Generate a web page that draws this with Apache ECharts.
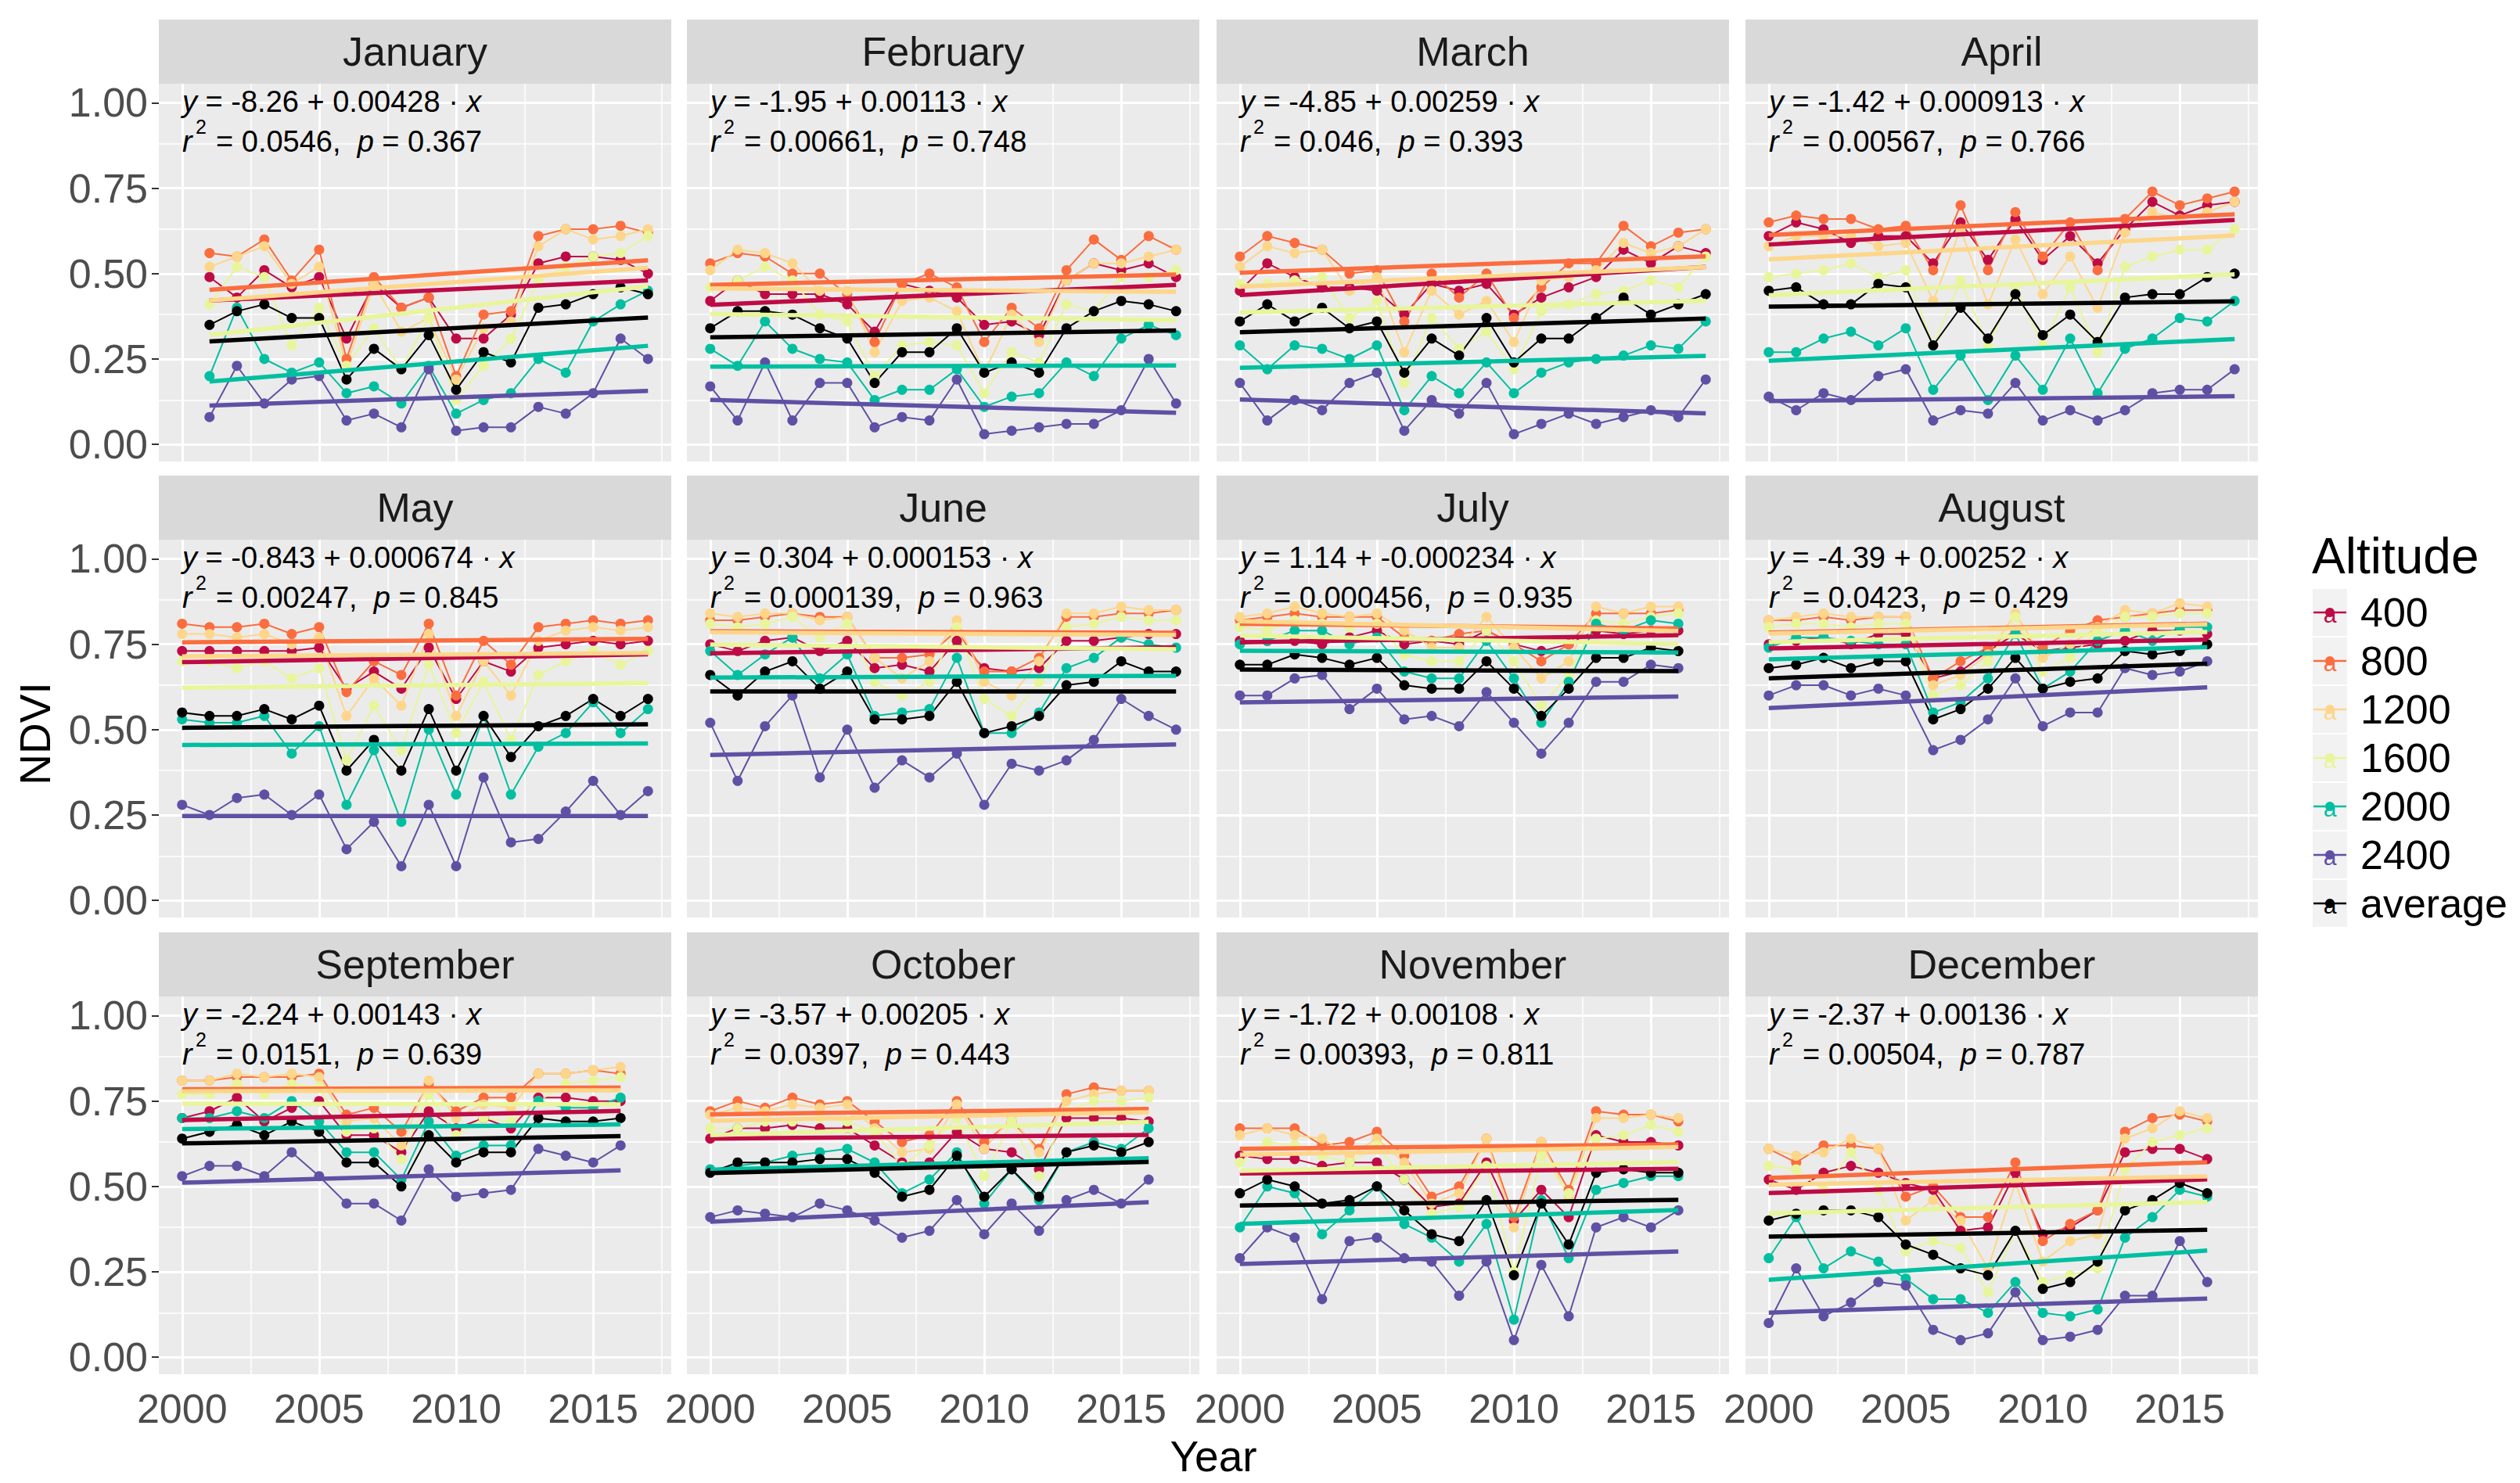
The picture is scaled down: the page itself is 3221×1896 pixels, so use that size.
<!DOCTYPE html>
<html><head><meta charset="utf-8">
<script src="https://cdn.jsdelivr.net/npm/echarts@6/dist/echarts.min.js"></script>
<style>html,body{margin:0;padding:0;background:#fff}#c{width:3221px;height:1896px}</style>
</head><body><div id="c"></div>
<script>
// ---------------- DATA ----------------
const months = ['January','February','March','April','May','June','July','August','September','October','November','December'];
const firstYear = [2001,2000,2000,2000,2000,2000,2000,2000,2000,2000,2000,2000];
const altitudes = ['400','800','1200','1600','2000','2400','average'];

const alt400 = [
 [0.49,0.43,0.51,0.46,0.49,0.31,0.47,0.40,0.43,0.31,0.31,0.38,0.53,0.55,0.55,0.54,0.50],
 [0.42,0.48,0.44,0.44,0.44,0.41,0.33,0.47,0.45,0.43,0.35,0.36,0.32,0.48,0.53,0.51,0.53,0.49],
 [0.45,0.53,0.49,0.46,0.46,0.45,0.38,0.47,0.45,0.47,0.38,0.43,0.46,0.49,0.57,0.53,0.58,0.56],
 [0.61,0.65,0.63,0.59,0.61,0.61,0.53,0.65,0.54,0.66,0.54,0.61,0.53,0.63,0.71,0.67,0.70,0.71],
 [0.73,0.73,0.73,0.73,0.73,0.74,0.62,0.67,0.62,0.74,0.59,0.70,0.67,0.74,0.75,0.76,0.75,0.76],
 [0.75,0.73,0.76,0.77,0.73,0.76,0.68,0.69,0.67,0.76,0.68,0.67,0.68,0.76,0.76,0.77,0.78,0.78],
 [0.76,0.76,0.76,0.75,0.77,0.79,0.75,0.76,0.75,0.79,0.75,0.73,0.75,0.79,0.78,0.79,0.79],
 [0.75,0.76,0.77,0.75,0.78,0.78,0.65,0.67,0.73,0.78,0.73,0.74,0.75,0.76,0.79,0.79,0.78],
 [0.70,0.72,0.76,0.69,0.73,0.75,0.65,0.65,0.60,0.72,0.67,0.70,0.67,0.76,0.76,0.75,0.75],
 [0.64,0.67,0.67,0.68,0.67,0.67,0.62,0.57,0.57,0.66,0.61,0.60,0.55,0.70,0.70,0.70,0.69],
 [0.59,0.58,0.58,0.56,0.57,0.57,0.52,0.44,0.45,0.57,0.40,0.49,0.41,0.65,0.63,0.63,0.62],
 [0.52,0.49,0.54,0.56,0.54,0.51,0.49,0.37,0.38,0.54,0.36,0.38,0.43,0.60,0.61,0.61,0.58]
];
const alt800 = [
 [0.56,0.55,0.60,0.48,0.57,0.25,0.49,0.40,0.43,0.20,0.38,0.39,0.61,0.63,0.63,0.64,0.62],
 [0.53,0.56,0.55,0.50,0.50,0.44,0.30,0.47,0.50,0.46,0.30,0.40,0.34,0.51,0.60,0.54,0.61,0.57],
 [0.55,0.61,0.59,0.57,0.50,0.51,0.36,0.50,0.43,0.50,0.37,0.46,0.53,0.53,0.64,0.58,0.62,0.63],
 [0.65,0.67,0.66,0.66,0.63,0.64,0.51,0.70,0.51,0.68,0.55,0.65,0.51,0.66,0.74,0.70,0.72,0.74],
 [0.81,0.80,0.80,0.81,0.78,0.80,0.61,0.70,0.66,0.81,0.60,0.76,0.69,0.80,0.81,0.82,0.81,0.82],
 [0.82,0.82,0.83,0.84,0.83,0.83,0.71,0.71,0.72,0.79,0.67,0.67,0.71,0.83,0.83,0.84,0.84,0.85],
 [0.82,0.83,0.84,0.83,0.83,0.83,0.77,0.76,0.78,0.79,0.75,0.70,0.75,0.84,0.84,0.84,0.85],
 [0.82,0.82,0.83,0.82,0.83,0.83,0.65,0.70,0.74,0.79,0.74,0.79,0.82,0.83,0.84,0.85,0.85],
 [0.81,0.81,0.82,0.82,0.82,0.83,0.71,0.73,0.66,0.80,0.72,0.76,0.76,0.83,0.83,0.84,0.83],
 [0.72,0.75,0.73,0.76,0.74,0.75,0.69,0.63,0.65,0.75,0.63,0.69,0.61,0.77,0.79,0.78,0.78],
 [0.67,0.67,0.67,0.62,0.63,0.66,0.59,0.47,0.50,0.64,0.41,0.63,0.49,0.72,0.71,0.71,0.69],
 [0.61,0.57,0.62,0.62,0.61,0.47,0.50,0.41,0.41,0.57,0.34,0.39,0.43,0.66,0.70,0.71,0.69]
];
const alt1200 = [
 [0.52,0.55,0.58,0.47,0.52,0.23,0.47,0.33,0.37,0.19,0.34,0.36,0.58,0.63,0.60,0.61,0.63],
 [0.51,0.57,0.56,0.53,0.45,0.45,0.27,0.42,0.43,0.39,0.21,0.38,0.30,0.48,0.53,0.53,0.55,0.57],
 [0.52,0.58,0.56,0.57,0.45,0.49,0.27,0.45,0.38,0.42,0.30,0.48,0.49,0.51,0.59,0.56,0.58,0.63],
 [0.58,0.61,0.61,0.61,0.58,0.59,0.42,0.63,0.41,0.60,0.44,0.55,0.40,0.62,0.68,0.66,0.68,0.71],
 [0.78,0.78,0.77,0.78,0.75,0.77,0.54,0.65,0.57,0.78,0.54,0.70,0.60,0.76,0.79,0.80,0.79,0.80],
 [0.84,0.83,0.84,0.84,0.82,0.83,0.71,0.65,0.70,0.82,0.64,0.60,0.70,0.84,0.84,0.86,0.85,0.85],
 [0.83,0.84,0.86,0.84,0.83,0.84,0.79,0.74,0.74,0.83,0.74,0.65,0.70,0.86,0.84,0.86,0.86],
 [0.82,0.83,0.84,0.83,0.83,0.83,0.63,0.66,0.72,0.84,0.71,0.75,0.80,0.85,0.84,0.87,0.86],
 [0.81,0.81,0.83,0.82,0.83,0.82,0.69,0.70,0.62,0.81,0.70,0.74,0.73,0.83,0.83,0.84,0.85],
 [0.71,0.73,0.72,0.74,0.73,0.74,0.67,0.60,0.61,0.74,0.61,0.70,0.60,0.75,0.77,0.78,0.78],
 [0.65,0.67,0.65,0.64,0.59,0.64,0.57,0.45,0.48,0.64,0.38,0.63,0.47,0.70,0.70,0.71,0.70],
 [0.61,0.59,0.60,0.64,0.61,0.40,0.46,0.40,0.26,0.51,0.28,0.34,0.36,0.64,0.67,0.72,0.70]
];
const alt1600 = [
 [0.41,0.52,0.49,0.29,0.40,0.23,0.34,0.22,0.37,0.13,0.23,0.31,0.48,0.52,0.55,0.56,0.61],
 [0.46,0.48,0.52,0.48,0.38,0.36,0.20,0.29,0.30,0.29,0.15,0.27,0.24,0.41,0.39,0.49,0.49,0.51],
 [0.47,0.47,0.48,0.49,0.37,0.42,0.18,0.37,0.28,0.33,0.22,0.39,0.41,0.44,0.45,0.48,0.46,0.55],
 [0.49,0.50,0.51,0.53,0.49,0.51,0.29,0.48,0.29,0.46,0.29,0.46,0.27,0.52,0.55,0.57,0.57,0.63],
 [0.70,0.70,0.68,0.70,0.65,0.68,0.41,0.57,0.44,0.69,0.49,0.64,0.47,0.66,0.70,0.73,0.69,0.73],
 [0.81,0.80,0.81,0.83,0.77,0.81,0.64,0.60,0.64,0.80,0.59,0.54,0.64,0.80,0.81,0.83,0.82,0.82],
 [0.80,0.79,0.82,0.81,0.80,0.81,0.72,0.70,0.70,0.79,0.70,0.57,0.66,0.82,0.81,0.83,0.84],
 [0.80,0.81,0.81,0.80,0.81,0.81,0.60,0.63,0.70,0.83,0.67,0.71,0.79,0.83,0.83,0.84,0.84],
 [0.77,0.77,0.80,0.77,0.80,0.79,0.66,0.67,0.58,0.77,0.65,0.70,0.69,0.75,0.80,0.81,0.82],
 [0.67,0.67,0.69,0.69,0.70,0.69,0.66,0.56,0.62,0.70,0.53,0.69,0.53,0.72,0.75,0.75,0.76],
 [0.57,0.63,0.62,0.59,0.57,0.62,0.52,0.42,0.44,0.56,0.25,0.59,0.48,0.64,0.65,0.68,0.66],
 [0.56,0.55,0.49,0.60,0.49,0.31,0.34,0.32,0.19,0.37,0.22,0.24,0.26,0.55,0.63,0.65,0.67]
];
const alt2000 = [
 [0.20,0.40,0.25,0.21,0.24,0.15,0.17,0.12,0.23,0.09,0.13,0.15,0.25,0.21,0.36,0.41,0.45],
 [0.28,0.23,0.36,0.28,0.25,0.24,0.13,0.16,0.16,0.22,0.11,0.14,0.15,0.24,0.20,0.31,0.35,0.32],
 [0.29,0.22,0.29,0.28,0.25,0.29,0.10,0.20,0.15,0.24,0.15,0.21,0.24,0.25,0.26,0.29,0.28,0.36],
 [0.27,0.27,0.31,0.33,0.29,0.34,0.16,0.26,0.13,0.26,0.16,0.31,0.15,0.28,0.31,0.37,0.36,0.42],
 [0.53,0.52,0.52,0.54,0.43,0.51,0.28,0.44,0.23,0.50,0.31,0.54,0.31,0.45,0.49,0.58,0.49,0.56],
 [0.73,0.66,0.72,0.77,0.65,0.72,0.54,0.55,0.56,0.71,0.49,0.49,0.55,0.68,0.71,0.77,0.75,0.74],
 [0.75,0.76,0.79,0.79,0.75,0.77,0.67,0.65,0.65,0.76,0.65,0.52,0.64,0.81,0.79,0.82,0.81],
 [0.74,0.77,0.77,0.76,0.75,0.75,0.55,0.58,0.65,0.78,0.62,0.67,0.76,0.79,0.76,0.80,0.80],
 [0.70,0.70,0.72,0.70,0.75,0.69,0.60,0.60,0.52,0.69,0.59,0.62,0.62,0.75,0.73,0.73,0.76],
 [0.55,0.56,0.57,0.59,0.60,0.61,0.57,0.48,0.52,0.60,0.45,0.55,0.46,0.60,0.63,0.61,0.67],
 [0.38,0.50,0.48,0.36,0.43,0.50,0.39,0.35,0.28,0.39,0.11,0.46,0.29,0.49,0.51,0.53,0.53],
 [0.29,0.41,0.26,0.31,0.28,0.23,0.17,0.17,0.13,0.22,0.13,0.12,0.14,0.35,0.41,0.49,0.47]
];
const alt2400 = [
 [0.08,0.23,0.12,0.19,0.20,0.07,0.09,0.05,0.22,0.04,0.05,0.05,0.11,0.09,0.15,0.31,0.25],
 [0.17,0.07,0.24,0.07,0.18,0.18,0.05,0.08,0.07,0.19,0.03,0.04,0.05,0.06,0.06,0.10,0.25,0.12],
 [0.18,0.07,0.13,0.10,0.18,0.21,0.04,0.13,0.09,0.18,0.03,0.06,0.09,0.06,0.08,0.10,0.08,0.19],
 [0.14,0.10,0.15,0.13,0.20,0.22,0.07,0.10,0.09,0.18,0.07,0.10,0.07,0.10,0.15,0.16,0.16,0.22],
 [0.28,0.25,0.30,0.31,0.25,0.31,0.15,0.23,0.10,0.28,0.10,0.36,0.17,0.18,0.26,0.35,0.25,0.32],
 [0.52,0.35,0.51,0.60,0.36,0.50,0.33,0.41,0.36,0.43,0.28,0.40,0.38,0.41,0.47,0.59,0.54,0.50],
 [0.60,0.60,0.65,0.66,0.56,0.62,0.53,0.54,0.51,0.61,0.52,0.43,0.52,0.64,0.64,0.69,0.68],
 [0.60,0.63,0.63,0.60,0.62,0.60,0.44,0.47,0.53,0.65,0.51,0.55,0.55,0.68,0.66,0.67,0.70],
 [0.53,0.56,0.56,0.53,0.60,0.53,0.45,0.45,0.40,0.55,0.47,0.48,0.49,0.61,0.59,0.57,0.62],
 [0.41,0.43,0.42,0.41,0.45,0.43,0.40,0.35,0.37,0.46,0.36,0.45,0.37,0.46,0.49,0.45,0.52],
 [0.29,0.38,0.35,0.17,0.34,0.35,0.29,0.28,0.18,0.28,0.05,0.27,0.12,0.38,0.41,0.38,0.43],
 [0.10,0.26,0.12,0.16,0.22,0.21,0.08,0.05,0.07,0.19,0.05,0.06,0.08,0.18,0.18,0.34,0.22]
];
const altAverage = [
 [0.35,0.39,0.41,0.37,0.37,0.19,0.28,0.22,0.32,0.16,0.27,0.24,0.40,0.41,0.44,0.46,0.44],
 [0.34,0.39,0.39,0.38,0.34,0.31,0.18,0.27,0.27,0.34,0.21,0.24,0.21,0.34,0.39,0.42,0.41,0.39],
 [0.36,0.41,0.36,0.40,0.34,0.36,0.21,0.31,0.26,0.37,0.24,0.31,0.31,0.37,0.43,0.38,0.41,0.44],
 [0.45,0.46,0.41,0.41,0.47,0.46,0.29,0.40,0.31,0.44,0.32,0.38,0.30,0.43,0.44,0.44,0.49,0.50],
 [0.55,0.54,0.54,0.56,0.53,0.57,0.38,0.47,0.38,0.56,0.38,0.54,0.42,0.51,0.54,0.59,0.54,0.59],
 [0.66,0.60,0.67,0.70,0.62,0.67,0.53,0.53,0.54,0.64,0.49,0.51,0.54,0.63,0.64,0.70,0.67,0.67],
 [0.69,0.69,0.72,0.71,0.69,0.71,0.63,0.62,0.62,0.70,0.62,0.54,0.62,0.71,0.71,0.74,0.73],
 [0.68,0.69,0.71,0.68,0.70,0.70,0.53,0.56,0.62,0.71,0.62,0.64,0.65,0.73,0.72,0.73,0.75],
 [0.64,0.66,0.68,0.65,0.69,0.66,0.57,0.57,0.50,0.65,0.57,0.60,0.60,0.70,0.69,0.69,0.70],
 [0.54,0.57,0.57,0.57,0.58,0.58,0.54,0.47,0.49,0.59,0.47,0.55,0.47,0.60,0.62,0.60,0.63],
 [0.48,0.52,0.50,0.45,0.46,0.50,0.43,0.36,0.34,0.46,0.24,0.45,0.33,0.54,0.55,0.54,0.54],
 [0.40,0.42,0.43,0.43,0.41,0.33,0.30,0.26,0.24,0.37,0.20,0.22,0.28,0.43,0.46,0.51,0.48]
];
const eqIntercept = ['-8.26','-1.95','-4.85','-1.42','-0.843','0.304','1.14','-4.39','-2.24','-3.57','-1.72','-2.37'];
const eqSlope = ['0.00428','0.00113','0.00259','0.000913','0.000674','0.000153','-0.000234','0.00252','0.00143','0.00205','0.00108','0.00136'];
const eqR2 = ['0.0546','0.00661','0.046','0.00567','0.00247','0.000139','0.000456','0.0423','0.0151','0.0397','0.00393','0.00504'];
const eqP = ['0.367','0.748','0.393','0.766','0.845','0.963','0.935','0.429','0.639','0.443','0.811','0.787'];
const xTicks = [2000, 2005, 2010, 2015];
const yTicks = [0, 0.25, 0.5, 0.75, 1];

// ---------------- STYLE / LAYOUT ----------------
const colors = ['#BE0B45','#FB6D3E','#FDD68A','#E8F59A','#00BFA0','#6050A4','#000000'];
const FONT = '"Liberation Sans", Arial, sans-serif';
const colLeft = [203, 878, 1555, 2231];
const rowTop = [107, 690, 1274];
const PW = 655, PH = 483, STRIP = 82;
const XMIN = 1999.15, XMAX = 2017.85, YMIN = -0.05, YMAX = 1.056;
const EQ = 38;

const allData = [alt400, alt800, alt1200, alt1600, alt2000, alt2400, altAverage];

function fit(pts) {
  const n = pts.length;
  let mx = 0, my = 0;
  pts.forEach(p => { mx += p[0]; my += p[1]; });
  mx /= n; my /= n;
  let sxy = 0, sxx = 0;
  pts.forEach(p => { sxy += (p[0]-mx)*(p[1]-my); sxx += (p[0]-mx)*(p[0]-mx); });
  const b = sxy / sxx, a = my - b*mx;
  const x0 = pts[0][0], x1 = pts[n-1][0];
  return [[x0, a + b*x0], [x1, a + b*x1]];
}

const grids = [], xAxes = [], yAxes = [], series = [], graphics = [];
const lines = [], regs = [];

for (let m = 0; m < 12; m++) {
  const r = Math.floor(m / 4), c = m % 4;
  const left = colLeft[c], top = rowTop[r];
  const isBottom = r === 2, isLeft = c === 0;
  grids.push({left: left, top: top, width: PW, height: PH, show: true,
    backgroundColor: '#EBEBEB', borderWidth: 0, containLabel: false});
  xAxes.push({gridIndex: m, type: 'value', min: XMIN, max: XMAX,
    axisLine: {show: false}, splitLine: {show: false},
    axisTick: {show: isBottom, length: 9, customValues: xTicks, lineStyle: {color: '#333333', width: 2}},
    axisLabel: {show: isBottom, customValues: xTicks, formatter: v => String(Math.round(v)),
      fontSize: 52, fontFamily: FONT, color: '#4D4D4D', margin: 18}});
  yAxes.push({gridIndex: m, type: 'value', min: YMIN, max: YMAX,
    axisLine: {show: false}, splitLine: {show: false},
    axisTick: {show: isLeft, length: 9, customValues: yTicks, lineStyle: {color: '#333333', width: 2}},
    axisLabel: {show: isLeft, customValues: yTicks, formatter: v => v.toFixed(2),
      fontSize: 52, fontFamily: FONT, color: '#4D4D4D', margin: 14}});

  // panel gridlines
  const gl = [];
  [2000,2005,2010,2015].forEach(v => gl.push({xAxis: v, lineStyle: {color: '#FFFFFF', width: 3, type: 'solid'}}));
  [2002.5,2007.5,2012.5,2017.5].forEach(v => gl.push({xAxis: v, lineStyle: {color: '#FFFFFF', width: 1.5, type: 'solid'}}));
  [0,0.25,0.5,0.75,1].forEach(v => gl.push({yAxis: v, lineStyle: {color: '#FFFFFF', width: 3, type: 'solid'}}));
  [0.125,0.375,0.625,0.875].forEach(v => gl.push({yAxis: v, lineStyle: {color: '#FFFFFF', width: 1.5, type: 'solid'}}));
  series.push({type: 'line', xAxisIndex: m, yAxisIndex: m, data: [[2000, 0]], showSymbol: false, symbol: 'none',
    lineStyle: {width: 0, opacity: 0}, silent: true, z: 1,
    markLine: {silent: true, z: 1, symbol: ['none','none'], label: {show: false}, animation: false,
      emphasis: {disabled: true}, data: gl}});

  for (let k = 0; k < 7; k++) {
    const vals = allData[k][m];
    const pts = vals.map((v, j) => [firstYear[m] + j, v]);
    lines.push({type: 'line', name: altitudes[k], xAxisIndex: m, yAxisIndex: m, data: pts,
      symbol: 'circle', symbolSize: 13, showSymbol: true, silent: true, z: 2,
      lineStyle: {width: 2, color: colors[k]}, itemStyle: {color: colors[k]}});
    regs.push({type: 'line', name: altitudes[k], xAxisIndex: m, yAxisIndex: m, data: fit(pts),
      symbol: 'none', showSymbol: false, silent: true, z: 3,
      lineStyle: {width: 5.5, color: colors[k]}, itemStyle: {color: colors[k]}});
  }

  // strip
  graphics.push({type: 'rect', shape: {x: left, y: top - STRIP, width: PW, height: STRIP},
    style: {fill: '#D9D9D9'}, silent: true, z: 10});
  graphics.push({type: 'text', x: left + PW/2, y: top - STRIP/2, silent: true, z: 11,
    style: {text: months[m], fill: '#1A1A1A', fontSize: 52, fontFamily: FONT,
      align: 'center', verticalAlign: 'middle', textAlign: 'center', textVerticalAlign: 'middle'}});

  // equation text
  const rich = {
    i: {fontStyle: 'italic', fontSize: EQ, lineHeight: 34, fontFamily: FONT, fill: '#000'},
    n: {fontSize: EQ, lineHeight: 34, fontFamily: FONT, fill: '#000'}
  };
  graphics.push({type: 'text', x: left + 30, y: top + 23, silent: true, z: 11,
    style: {text: '{i|y}{n| = ' + eqIntercept[m] + ' + ' + eqSlope[m] + ' \u00B7 }{i|x}',
      rich: rich, fontSize: EQ, lineHeight: 34, fontFamily: FONT, fill: '#000',
      verticalAlign: 'middle', textVerticalAlign: 'middle'}});
  graphics.push({type: 'text', x: left + 30, y: top + 74, silent: true, z: 11,
    style: {text: 'r', fontStyle: 'italic', fontSize: EQ, lineHeight: 34, fontFamily: FONT, fill: '#000',
      verticalAlign: 'middle', textVerticalAlign: 'middle'}});
  graphics.push({type: 'text', x: left + 47, y: top + 55, silent: true, z: 11,
    style: {text: '2', fontSize: 25, lineHeight: 22, fontFamily: FONT, fill: '#000',
      verticalAlign: 'middle', textVerticalAlign: 'middle'}});
  graphics.push({type: 'text', x: left + 73, y: top + 74, silent: true, z: 11,
    style: {text: '{n|= ' + eqR2[m] + ',  }{i|p}{n| = ' + eqP[m] + '}',
      rich: rich, fontSize: EQ, lineHeight: 34, fontFamily: FONT, fill: '#000',
      verticalAlign: 'middle', textVerticalAlign: 'middle'}});
}

series.push(...lines, ...regs);

// axis titles
graphics.push({type: 'text', x: 1551, y: 1862, silent: true,
  style: {text: 'Year', fontSize: 55, fontFamily: FONT, fill: '#000', align: 'center', verticalAlign: 'middle',
    textAlign: 'center', textVerticalAlign: 'middle'}});
graphics.push({type: 'text', x: 45, y: 938, rotation: Math.PI/2, silent: true,
  style: {text: 'NDVI', fontSize: 55, fontFamily: FONT, fill: '#000', align: 'center', verticalAlign: 'middle',
    textAlign: 'center', textVerticalAlign: 'middle'}});

// legend
graphics.push({type: 'text', x: 2955, y: 711, silent: true,
  style: {text: 'Altitude', fontSize: 64, fontFamily: FONT, fill: '#000', verticalAlign: 'middle', textVerticalAlign: 'middle'}});
for (let k = 0; k < 7; k++) {
  const yc = 783 + 62*k;
  graphics.push({type: 'rect', shape: {x: 2955, y: yc - 31, width: 46, height: 62},
    style: {fill: '#F2F2F2', stroke: '#FFFFFF', lineWidth: 2}, silent: true});
  graphics.push({type: 'line', shape: {x1: 2957, y1: yc, x2: 2999, y2: yc},
    style: {stroke: colors[k], lineWidth: 2.5}, silent: true});
  graphics.push({type: 'circle', shape: {cx: 2978, cy: yc, r: 6},
    style: {fill: colors[k]}, silent: true});
  graphics.push({type: 'text', x: 2978, y: yc + 2, silent: true,
    style: {text: 'a', fontSize: 30, fontFamily: FONT, fill: colors[k], align: 'center', verticalAlign: 'middle',
      textAlign: 'center', textVerticalAlign: 'middle'}});
  graphics.push({type: 'text', x: 3017, y: yc, silent: true,
    style: {text: altitudes[k], fontSize: 52, fontFamily: FONT, fill: '#000', verticalAlign: 'middle', textVerticalAlign: 'middle'}});
}

const chart = echarts.init(document.getElementById('c'), null, {renderer: 'svg', width: 3221, height: 1896});
chart.setOption({
  animation: false,
  backgroundColor: '#FFFFFF',
  grid: grids, xAxis: xAxes, yAxis: yAxes, series: series,
  graphic: {elements: graphics}
});
</script></body></html>
